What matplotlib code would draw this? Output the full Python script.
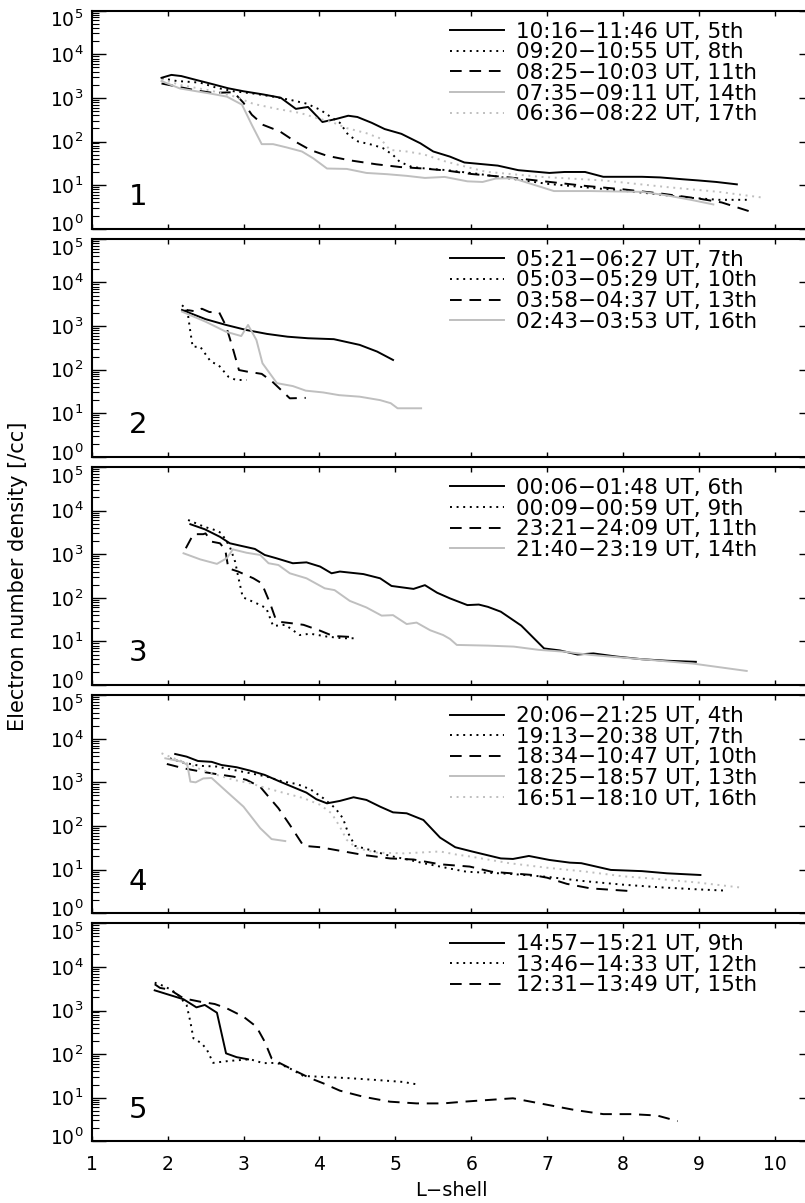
import numpy as np
import matplotlib.pyplot as plt
import matplotlib.transforms as mtransforms
from matplotlib.ticker import LogLocator, NullFormatter, FixedLocator

plt.rcParams['font.family'] = ['DejaVu Sans']

# panel 1
L1_5 = [1.92, 2.05, 2.18, 2.38, 2.56, 2.80, 3.00, 3.26, 3.49, 3.69, 3.85, 4.04, 4.21, 4.38, 4.50, 4.69, 4.86,
        5.08, 5.33, 5.50, 5.72, 5.91, 6.35, 6.62, 7.03, 7.23, 7.50, 7.74, 8.25, 8.49, 8.79, 8.99, 9.23, 9.50]
N1_5 = [2890, 3370, 3170, 2570, 2140, 1660, 1420, 1200, 1010, 560, 620, 280, 325, 390, 365, 268, 193,
        150, 91, 59, 45, 33, 28, 22, 19, 20, 20, 15.5, 15.5, 15, 13.6, 12.8, 11.8, 10.4]
L1_8 = [1.92, 2.12, 2.43, 2.65, 2.87, 3.13, 3.39, 3.63, 3.83, 4.01, 4.14, 4.27, 4.38, 4.51, 4.71, 4.84, 4.97,
        5.06, 5.22, 5.40, 5.68, 6.10, 7.00, 8.16, 8.84, 9.26, 9.63]
N1_8 = [2840, 2440, 2240, 1700, 1420, 1260, 1070, 890, 740, 535, 375, 268, 142, 100, 83, 70, 49,
        34, 26, 24, 22, 18, 10.7, 7.0, 5.2, 4.6, 4.6]
L1_11 = [1.92, 2.16, 2.38, 2.60, 2.87, 3.00, 3.11, 3.26, 3.48, 3.68, 3.88, 4.10, 4.40, 4.75, 5.06, 5.37, 5.68,
         6.0, 6.5, 7.0, 7.5, 8.0, 8.5, 9.0, 9.3, 9.7]
N1_11 = [2140, 1770, 1480, 1300, 1350, 770, 410, 240, 170, 100, 64, 47, 37, 30, 26, 24, 21.5,
         18, 15, 12, 9.6, 8.0, 6.4, 4.9, 4.0, 2.4]
L1_14 = [1.92, 2.16, 2.38, 2.56, 2.78, 2.98, 3.11, 3.24, 3.39, 3.57, 3.77, 3.92, 4.10, 4.36, 4.62, 4.89, 5.15,
         5.39, 5.65, 5.95, 6.15, 6.32, 6.55, 7.09, 7.57, 8.25, 8.58, 8.92, 9.19]
N1_14 = [2430, 1650, 1420, 1260, 1070, 700, 240, 87, 87, 73, 59, 41, 24, 23.5, 19, 17.8, 16.3,
         14.6, 15.4, 12.2, 11.8, 14.1, 14.4, 7.3, 7.3, 7.0, 5.8, 4.5, 3.6]
L1_17 = [1.92, 2.19, 2.56, 2.87, 3.13, 3.44, 3.75, 3.92, 4.19, 4.36, 4.62, 4.80, 4.93, 5.15, 5.37, 5.68,
         6.19, 6.93, 7.74, 8.58, 9.26, 9.83]
N1_17 = [2650, 1940, 1480, 1090, 730, 560, 450, 365, 268, 203, 155, 118, 64, 59, 51, 34,
         20.3, 15.4, 12.8, 9.0, 7.0, 5.2]

# panel 2
L2_7 = [2.19, 2.50, 2.77, 3.04, 3.31, 3.58, 3.85, 4.19, 4.53, 4.76, 4.97]
N2_7 = [2340, 1440, 1060, 810, 660, 570, 525, 500, 370, 260, 167]
L2_10 = [2.19, 2.26, 2.29, 2.33, 2.43, 2.57, 2.67, 2.80, 2.90, 3.04]
N2_10 = [3000, 2340, 970, 335, 335, 152, 128, 69, 58, 58]
L2_13 = [2.19, 2.28, 2.38, 2.45, 2.55, 2.68, 2.77, 2.85, 2.94, 3.05, 3.24, 3.38, 3.61, 3.82]
N2_13 = [2200, 2300, 2150, 2500, 2100, 2050, 1000, 350, 98, 90, 80, 53, 22, 22.5]
L2_16 = [2.19, 2.50, 2.77, 2.97, 3.06, 3.17, 3.25, 3.44, 3.65, 3.82, 4.05, 4.26, 4.53, 4.80, 4.94, 5.03, 5.34]
N2_16 = [2140, 1260, 740, 590, 1060, 480, 140, 49, 42, 33, 30, 26, 24, 20, 17, 13, 13]

# panel 3
L3_6 = [2.30, 2.49, 2.69, 2.82, 2.95, 3.15, 3.28, 3.43, 3.65, 3.83, 4.01, 4.16, 4.27, 4.58, 4.80, 4.95, 5.24,
        5.39, 5.55, 5.72, 5.95, 6.10, 6.22, 6.39, 6.66, 6.96, 7.17, 7.40, 7.61, 7.91, 8.25, 8.58, 8.96]
N3_6 = [4870, 3730, 2500, 1780, 1580, 1320, 960, 810, 620, 650, 520, 365, 400, 350, 280, 187, 160,
        195, 131, 97, 68, 70, 62, 48, 23, 6.9, 6.2, 5.0, 5.3, 4.5, 3.9, 3.6, 3.4]
L3_9 = [2.27, 2.48, 2.65, 2.71, 2.82, 2.89, 2.93, 2.99, 3.17, 3.30, 3.39, 3.55, 3.74, 3.88, 4.10, 4.31, 4.51]
N3_9 = [6100, 4270, 3470, 3020, 1480, 670, 305, 103, 75, 58, 22.6, 24, 14, 15, 12.9, 11.8, 11.8]
L3_11 = [2.24, 2.34, 2.47, 2.50, 2.58, 2.69, 2.76, 2.80, 2.93, 3.13, 3.24, 3.35, 3.42, 3.48, 3.64, 3.79,
         4.01, 4.18, 4.40]
N3_11 = [1370, 2880, 2880, 3000, 1940, 1780, 1260, 475, 400, 280, 215, 75, 34, 28, 26, 24, 17.6, 13.3, 12.7]
L3_14 = [2.21, 2.43, 2.65, 2.78, 2.86, 3.04, 3.22, 3.33, 3.46, 3.61, 3.83, 4.07, 4.20, 4.40, 4.62, 4.82, 4.97,
         5.15, 5.28, 5.46, 5.63, 5.72, 5.81, 6.22, 6.56, 6.89, 7.23, 7.57, 8.25, 8.92, 9.63]
N3_14 = [1050, 760, 600, 810, 1290, 1080, 960, 620, 565, 365, 280, 165, 150, 85, 60, 39, 40,
         25, 27, 18, 14, 11.4, 8.3, 8.0, 7.6, 6.4, 5.8, 4.9, 3.9, 3.1, 2.1]

# panel 4
L4_4 = [2.10, 2.25, 2.40, 2.58, 2.71, 2.91, 3.09, 3.28, 3.48, 3.66, 3.83, 3.96, 4.10, 4.27, 4.45, 4.62, 4.80,
        4.97, 5.15, 5.37, 5.59, 5.79, 6.01, 6.39, 6.55, 6.76, 7.03, 7.30, 7.45, 7.84, 8.25, 8.58, 9.02]
N4_4 = [4470, 3890, 3090, 2950, 2500, 2220, 1850, 1480, 1040, 770, 580, 410, 330, 375, 455, 395, 277,
        205, 195, 137, 54, 32.5, 26, 18, 17.5, 20.5, 16.6, 14.4, 14, 9.8, 9.2, 8.2, 7.5]
L4_7 = [2.03, 2.21, 2.43, 2.65, 2.87, 3.09, 3.31, 3.52, 3.70, 3.88, 4.05, 4.21, 4.31, 4.38, 4.47, 4.67, 4.93,
        5.19, 5.37, 5.59, 5.76, 5.94, 6.5, 7.0, 7.5, 8.0, 8.5, 9.0, 9.33]
N4_7 = [3560, 2820, 2390, 2300, 1920, 1620, 1350, 1040, 920, 695, 435, 255, 150, 68, 35, 28, 20.5,
        16.6, 14, 11.7, 10.2, 8.9, 8.0, 6.8, 5.4, 4.5, 3.9, 3.5, 3.3]
L4_10 = [1.99, 2.21, 2.43, 2.65, 2.87, 3.04, 3.22, 3.31, 3.46, 3.61, 3.79, 4.01, 4.27, 4.58, 4.93, 5.24, 5.59,
         5.98, 6.27, 6.81, 7.00, 7.26, 7.57, 8.11]
N4_10 = [2640, 2100, 1780, 1540, 1350, 1140, 790, 515, 255, 106, 35, 32.5, 27, 21.6, 18, 17, 13.2,
         11.7, 8.9, 7.5, 6.5, 4.7, 3.7, 3.2]
L4_13 = [1.97, 2.19, 2.26, 2.30, 2.37, 2.47, 2.58, 2.78, 3.00, 3.22, 3.37, 3.55]
N4_13 = [3560, 2970, 2500, 1040, 1000, 1230, 1260, 610, 277, 89, 50, 45]
L4_16 = [1.92, 2.08, 2.21, 2.43, 2.65, 2.87, 3.09, 3.31, 3.52, 3.79, 4.01, 4.16, 4.27, 4.36, 4.49, 4.75, 5.11,
         5.41, 5.59, 5.81, 5.98, 6.5, 7.0, 7.5, 8.0, 8.5, 9.0, 9.53]
N4_16 = [4650, 3560, 2970, 2000, 1480, 1140, 950, 730, 580, 435, 305, 195, 96, 48, 31, 24.5, 23.5,
         25, 26, 22, 20, 14, 11, 9, 7, 6, 5, 3.9]

# panel 5
L5_9 = [1.83, 2.21, 2.38, 2.49, 2.65, 2.77, 2.91, 3.06]
N5_9 = [2900, 1810, 1180, 1340, 890, 104, 85, 76]
L5_12 = [1.83, 1.97, 2.12, 2.25, 2.30, 2.34, 2.45, 2.52, 2.60, 2.82, 3.09, 3.26, 3.44, 3.61, 3.79, 4.05,
         4.40, 4.75, 5.10, 5.28]
N5_12 = [4350, 3530, 2470, 1340, 550, 230, 176, 124, 63, 70, 76, 62, 63, 47, 31.5, 30, 28, 25.5, 23, 20.3]
L5_15 = [1.83, 1.90, 2.03, 2.21, 2.43, 2.62, 2.78, 3.00, 3.17, 3.28, 3.37, 3.48, 3.66, 3.88, 4.05, 4.27,
         4.58, 4.93, 5.28, 5.63, 5.90, 6.55, 6.96, 7.37, 7.74, 8.11, 8.45, 8.72]
N5_15 = [4000, 3300, 3000, 1900, 1590, 1410, 1120, 720, 425, 192, 80, 62, 43, 28, 21.4, 14.5,
         10.5, 8.1, 7.4, 7.4, 8.1, 9.7, 7.1, 5.2, 4.2, 4.2, 3.9, 2.9]

labels1 = ['10:16\u221211:46 UT, 5th', '09:20\u221210:55 UT, 8th', '08:25\u221210:03 UT, 11th',
           '07:35\u221209:11 UT, 14th', '06:36\u221208:22 UT, 17th']
labels2 = ['05:21\u221206:27 UT, 7th', '05:03\u221205:29 UT, 10th', '03:58\u221204:37 UT, 13th',
           '02:43\u221203:53 UT, 16th']
labels3 = ['00:06\u221201:48 UT, 6th', '00:09\u221200:59 UT, 9th', '23:21\u221224:09 UT, 11th',
           '21:40\u221223:19 UT, 14th']
labels4 = ['20:06\u221221:25 UT, 4th', '19:13\u221220:38 UT, 7th', '18:34\u221210:47 UT, 10th',
           '18:25\u221218:57 UT, 13th', '16:51\u221218:10 UT, 16th']
labels5 = ['14:57\u221215:21 UT, 9th', '13:46\u221214:33 UT, 12th', '12:31\u221213:49 UT, 15th']

panels = [
    [(L1_5, N1_5), (L1_8, N1_8), (L1_11, N1_11), (L1_14, N1_14), (L1_17, N1_17)],
    [(L2_7, N2_7), (L2_10, N2_10), (L2_13, N2_13), (L2_16, N2_16)],
    [(L3_6, N3_6), (L3_9, N3_9), (L3_11, N3_11), (L3_14, N3_14)],
    [(L4_4, N4_4), (L4_7, N4_7), (L4_10, N4_10), (L4_13, N4_13), (L4_16, N4_16)],
    [(L5_9, N5_9), (L5_12, N5_12), (L5_15, N5_15)],
]
labels = [labels1, labels2, labels3, labels4, labels5]

gray = '#bfbfbf'
styles = [
    dict(color='k', ls='-'),
    dict(color='k', dashes=(1, 2.4)),
    dict(color='k', dashes=(6, 4)),
    dict(color=gray, ls='-'),
    dict(color=gray, dashes=(1, 2.4)),
]

W, H = 805, 1203
fig = plt.figure(figsize=(W / 100, H / 100), dpi=100)

left_px = 91.7
unit_px = 75.9
xmax = 10.5
ax_w = (xmax - 1) * unit_px
ax_h = 218
pitch = 228.15
top0 = 10.7

# shift the end decade labels inward, as in the original
up = mtransforms.ScaledTranslation(0, 5 / 100, fig.dpi_scale_trans)
down = mtransforms.ScaledTranslation(0, -8 / 100, fig.dpi_scale_trans)

for k in range(5):
    top = top0 + pitch * k
    ax = fig.add_axes([left_px / W, 1 - (top + ax_h) / H, ax_w / W, ax_h / H])
    for (lv, nv), st, lab in zip(panels[k], styles, labels[k]):
        ax.plot(lv, nv, lw=1.4, label=lab, **st)
    ax.set_yscale('log')
    ax.set_ylim(1, 1e5)
    ax.set_xlim(1, xmax)
    ax.yaxis.set_major_locator(FixedLocator([1, 10, 100, 1e3, 1e4, 1e5]))
    ax.yaxis.set_minor_locator(LogLocator(base=10, subs=np.arange(2, 10), numticks=20))
    ax.yaxis.set_minor_formatter(NullFormatter())
    ax.set_xticks(range(1, 11))
    ax.xaxis.set_minor_locator(FixedLocator([]))
    ax.tick_params(axis='y', which='major', direction='in', length=10, width=1.0,
                   left=True, right=True, labelsize=13.5, pad=6)
    ax.tick_params(axis='y', which='minor', direction='in', length=5, width=0.8,
                   left=True, right=False)
    ax.tick_params(axis='x', which='major', direction='in', length=3.5, width=1.0,
                   top=True, bottom=True, labelsize=13.5, pad=10)
    if k < 4:
        ax.tick_params(axis='x', labelbottom=False)
    ylabs = ax.get_yticklabels()
    ylabs[0].set_transform(ylabs[0].get_transform() + up)
    ylabs[-1].set_transform(ylabs[-1].get_transform() + down)
    for sp in ax.spines.values():
        sp.set_linewidth(1.5)
    ax.text(1.61, 5.3, str(k + 1), ha='center', va='center', fontsize=21)
    ax.legend(loc='upper left', bbox_to_anchor=(0.497, 0.95), frameon=False, fontsize=15.5,
              handlelength=2.5, handletextpad=0.55, labelspacing=0.03,
              borderpad=0, borderaxespad=0)

fig.text(18 / W, 1 - 576 / H, 'Electron number density [/cc]', rotation=90,
         ha='center', va='center', fontsize=15)
fig.text(451 / W, 1 - 1190 / H, 'L\u2212shell', ha='center', va='center', fontsize=14)

fig.savefig('out.png', dpi=100)
